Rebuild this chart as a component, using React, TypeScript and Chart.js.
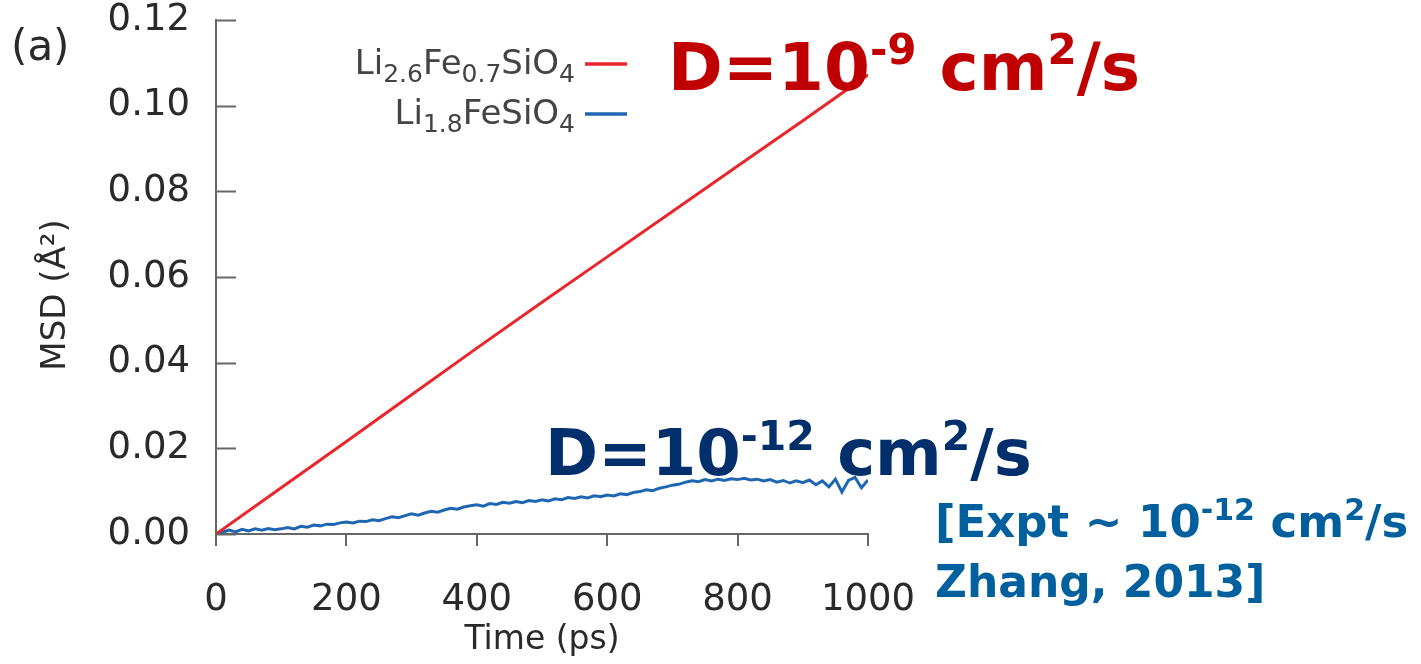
import React, { useEffect, useRef } from "react";
import { Chart, registerables } from "chart.js";

Chart.register(...registerables);

const timeRed: number[] = [0, 100, 200, 300, 400, 500, 600, 700, 800, 900, 1000];
const msdRed: number[] = [0, 0.0108, 0.0216, 0.0325, 0.0434, 0.0541, 0.0647, 0.0753, 0.0859, 0.0965, 0.1072];

const timeBlue: number[] = [
  0, 10, 20, 30, 40, 50, 60, 70, 80, 90, 100,
  110, 120, 130, 140, 150, 160, 170, 180, 190, 200,
  210, 220, 230, 240, 250, 260, 270, 280, 290, 300,
  310, 320, 330, 340, 350, 360, 370, 380, 390, 400,
  410, 420, 430, 440, 450, 460, 470, 480, 490, 500,
  510, 520, 530, 540, 550, 560, 570, 580, 590, 600,
  610, 620, 630, 640, 650, 660, 670, 680, 690, 700,
  710, 720, 730, 740, 750, 760, 770, 780, 790, 800,
  810, 820, 830, 840, 850, 860, 870, 880, 890, 900,
  910, 920, 930, 940, 950, 960, 970, 980, 990, 1000,
];
const msdBlue: number[] = [
  0, 0.0004, 0.0009, 0.0005, 0.0011, 0.0007, 0.0012, 0.0009, 0.0013, 0.001, 0.0012,
  0.0015, 0.0012, 0.0018, 0.0016, 0.0021, 0.0019, 0.0023, 0.0022, 0.0026, 0.0028,
  0.0026, 0.003, 0.0029, 0.0033, 0.0031, 0.0036, 0.004, 0.0038, 0.0043, 0.0047,
  0.0044, 0.0049, 0.0053, 0.0051, 0.0056, 0.006, 0.0058, 0.0063, 0.0066, 0.0068,
  0.0065, 0.0071, 0.0069, 0.0074, 0.0072, 0.0076, 0.0073, 0.0078, 0.0076, 0.008,
  0.0077, 0.0082, 0.008, 0.0085, 0.0083, 0.0087, 0.0084, 0.0089, 0.0087, 0.0091,
  0.0089, 0.0094, 0.0092, 0.0097, 0.0099, 0.0103, 0.0101, 0.0107, 0.011, 0.0114,
  0.0116, 0.0121, 0.0124, 0.0122, 0.0127, 0.0124, 0.0128, 0.0125, 0.0129, 0.0127,
  0.013, 0.0126, 0.0128, 0.0124, 0.0127, 0.0121, 0.0125, 0.0119, 0.0124, 0.012,
  0.0126, 0.0115, 0.0124, 0.011, 0.0128, 0.0098, 0.0125, 0.0132, 0.0108, 0.0126,
];

const xTicks: number[] = [0, 200, 400, 600, 800, 1000];
const yTicks: number[] = [0, 0.02, 0.04, 0.06, 0.08, 0.1, 0.12];
const yTitle = "MSD (Å²)";

const labelRed = [["Li", 0], ["2.6", 1], ["Fe", 0], ["0.7", 1], ["SiO", 0], ["4", 1]] as [string, number][];
const labelBlue = [["Li", 0], ["1.8", 1], ["FeSiO", 0], ["4", 1]] as [string, number][];

const RED = "#e8262b";
const BLUE = "#1f66b2";
const AXIS = "#666666";
const TEXT = "#2a2a2a";

type Part = [string, number];

function drawParts(
  ctx: CanvasRenderingContext2D,
  parts: Part[],
  x: number,
  y: number,
  size: number,
  weight: string,
  family: string,
  color: string,
  align: "left" | "right",
  small: number,
  offset: number
) {
  const fontFor = (k: number) => `${weight} ${k ? small : size}px ${family}`;
  let total = 0;
  const widths = parts.map(([t, k]) => {
    ctx.font = fontFor(k);
    const w = ctx.measureText(t).width;
    total += w;
    return w;
  });
  let cx = align === "right" ? x - total : x;
  ctx.fillStyle = color;
  ctx.textBaseline = "alphabetic";
  ctx.textAlign = "left";
  parts.forEach(([t, k], i) => {
    ctx.font = fontFor(k);
    const dy = k === 1 ? offset : k === 2 ? -offset : 0;
    ctx.fillText(t, cx, y + dy);
    cx += widths[i];
  });
}

const overlayPlugin = {
  id: "overlay",
  afterDraw(chart: any) {
    const ctx: CanvasRenderingContext2D = chart.ctx;
    const xs = chart.scales.x;
    const ys = chart.scales.y;
    ctx.save();
    // inward y ticks
    ctx.strokeStyle = AXIS;
    ctx.lineWidth = 2;
    yTicks.forEach((v) => {
      const py = Math.round(ys.getPixelForValue(v)) + 0.5;
      ctx.beginPath();
      ctx.moveTo(xs.left, py);
      ctx.lineTo(xs.left + 20, py);
      ctx.stroke();
    });
    // y title
    ctx.save();
    ctx.translate(56, 295);
    ctx.rotate(-Math.PI / 2);
    ctx.font = "34px 'DejaVu Sans'";
    ctx.fillStyle = TEXT;
    ctx.textAlign = "center";
    ctx.textBaseline = "middle";
    ctx.fillText(yTitle, 0, 0);
    ctx.restore();

    // "(a)"
    ctx.font = "42px 'DejaVu Sans'";
    ctx.fillStyle = TEXT;
    ctx.textAlign = "left";
    ctx.textBaseline = "alphabetic";
    ctx.fillText("(a)", 11, 60);

    // legend
    const fam = "'DejaVu Sans'";
    drawParts(ctx, labelRed, 575, 74, 34, "normal", fam, "#444", "right", 25, 8);
    drawParts(ctx, labelBlue, 575, 124, 34, "normal", fam, "#444", "right", 25, 8);
    ctx.lineWidth = 3.5;
    ctx.strokeStyle = RED;
    ctx.beginPath();
    ctx.moveTo(585, 64);
    ctx.lineTo(627, 64);
    ctx.stroke();
    ctx.strokeStyle = BLUE;
    ctx.beginPath();
    ctx.moveTo(585, 114);
    ctx.lineTo(627, 114);
    ctx.stroke();

    // annotations
    const bold = "'DejaVu Sans'";
    drawParts(
      ctx,
      [["D=10", 0], ["-9", 2], [" cm", 0], ["2", 2], ["/s", 0]],
      668, 90, 66, "bold", bold, "#c00000", "left", 42, 26
    );
    drawParts(
      ctx,
      [["D=10", 0], ["-12", 2], [" cm", 0], ["2", 2], ["/s", 0]],
      545, 475, 64, "bold", bold, "#002f6c", "left", 41, 25
    );
    drawParts(
      ctx,
      [["[Expt ~ 10", 0], ["-12", 2], [" cm", 0], ["2", 2], ["/s", 0]],
      935, 537, 45, "bold", bold, "#00609e", "left", 30, 17
    );
    drawParts(ctx, [["Zhang, 2013]", 0]], 935, 597, 44, "bold", bold, "#00609e", "left", 30, 17);
    ctx.restore();
  },
};

export default function App() {
  const ref = useRef<HTMLCanvasElement | null>(null);
  useEffect(() => {
    document.body.style.margin = "0";
    const canvas = ref.current!;
    const chart = new Chart(canvas, {
      type: "line",
      data: {
        datasets: [
          {
            label: "Li2.6Fe0.7SiO4",
            data: timeRed.map((t, i) => ({ x: t, y: msdRed[i] })),
            borderColor: RED,
            borderWidth: 3,
            pointRadius: 0,
            tension: 0,
          },
          {
            label: "Li1.8FeSiO4",
            data: timeBlue.map((t, i) => ({ x: t, y: msdBlue[i] })),
            borderColor: BLUE,
            borderWidth: 3,
            pointRadius: 0,
            tension: 0,
          },
        ],
      },
      options: {
        responsive: false,
        animation: false,
        layout: { padding: { left: 0, top: 20, right: 553, bottom: 0 } },
        plugins: { legend: { display: false }, tooltip: { enabled: false } },
        scales: {
          x: {
            type: "linear",
            min: 0,
            max: 1000,
            afterBuildTicks: (s: any) => {
              s.ticks = xTicks.map((v) => ({ value: v }));
            },
            afterFit: (s: any) => {
              s.height = 130;
            },
            grid: { drawOnChartArea: false, tickLength: 12, color: AXIS, lineWidth: 2 },
            border: { display: true, color: AXIS, width: 2 },
            ticks: {
              color: TEXT,
              font: { family: "'DejaVu Sans'", size: 37 },
              padding: 32,
              maxRotation: 0,
              callback: (v: any) => String(v),
            },
            title: {
              display: true,
              text: "Time (ps)",
              color: TEXT,
              font: { family: "'DejaVu Sans'", size: 33 },
              padding: { top: 0, bottom: 4 },
            },
          },
          y: {
            type: "linear",
            min: 0,
            max: 0.12,
            afterBuildTicks: (s: any) => {
              s.ticks = yTicks.map((v) => ({ value: v }));
            },
            afterFit: (s: any) => {
              s.width = 216;
              s.paddingTop = 0;
              s.paddingBottom = 0;
            },
            grid: { drawOnChartArea: false, drawTicks: false },
            border: { display: true, color: AXIS, width: 2 },
            ticks: {
              color: TEXT,
              font: { family: "'DejaVu Sans'", size: 37, lineHeight: 0.6 },
              padding: 26,
              callback: (v: any) => Number(v).toFixed(2),
            },
            title: { display: false, text: yTitle },
          },
        },
      },
      plugins: [overlayPlugin],
    });
    return () => chart.destroy();
  }, []);
  return (
    <div style={{ position: "relative", width: 1421, height: 664 }}>
      <canvas ref={ref} width={1421} height={664} />
    </div>
  );
}
